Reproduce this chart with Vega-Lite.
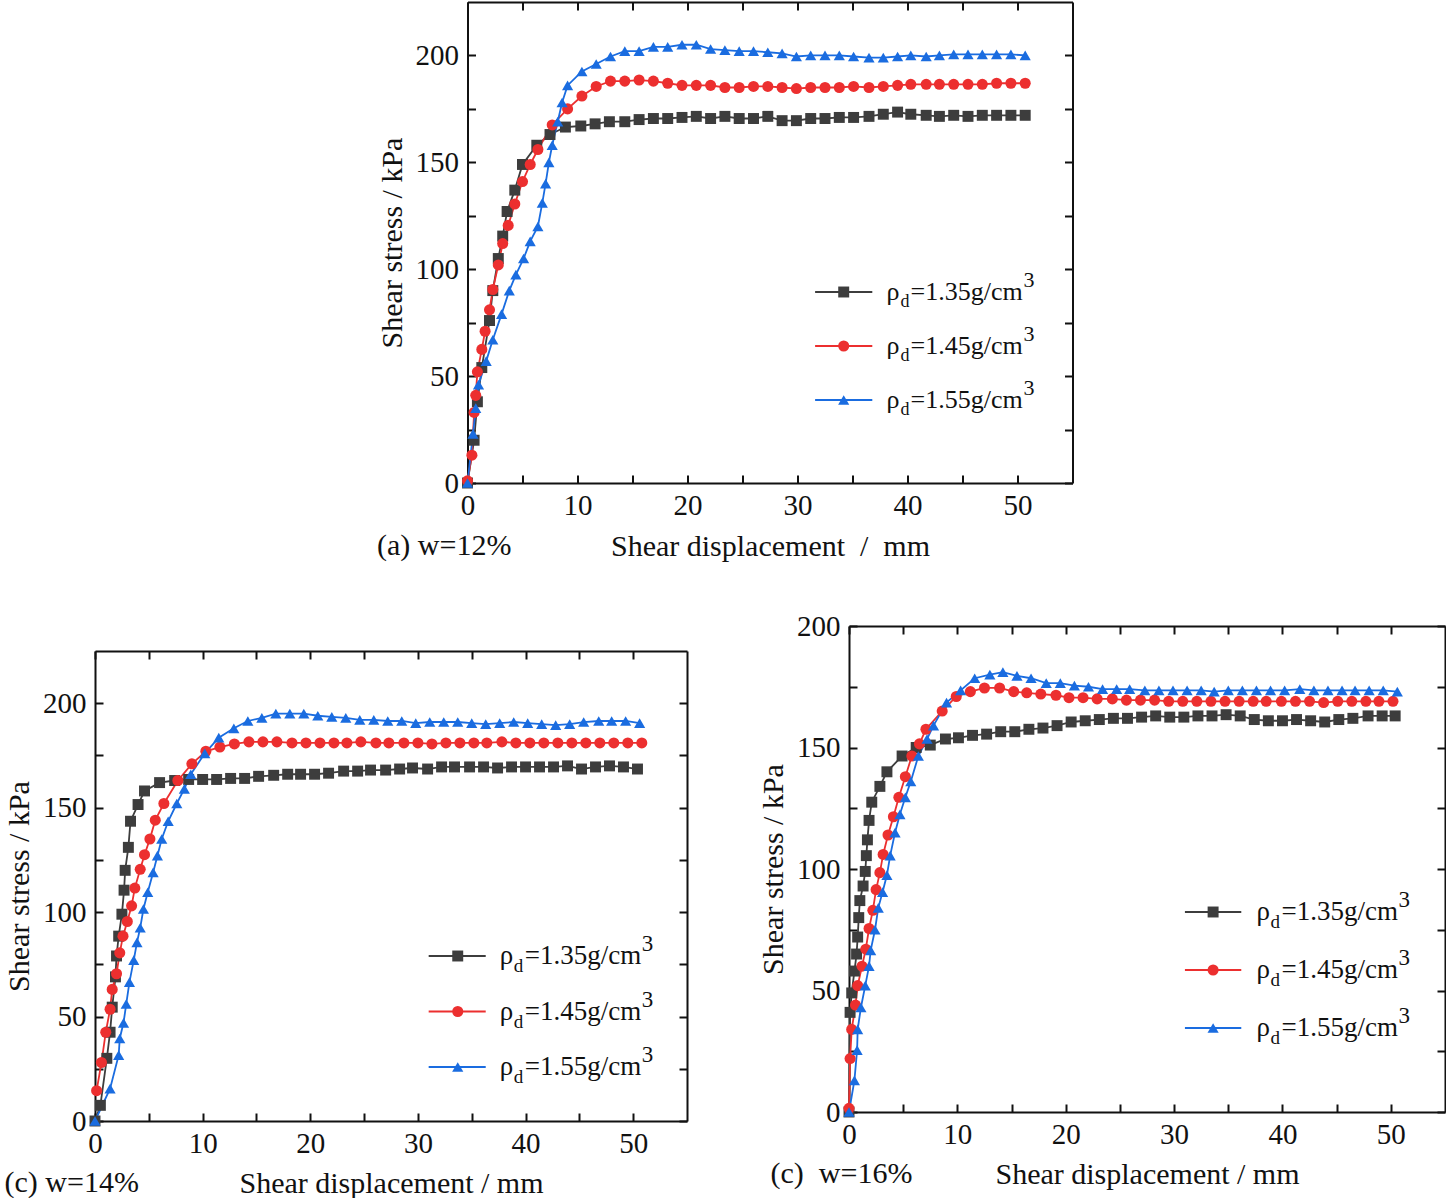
{
  "$schema": "https://vega.github.io/schema/vega-lite/v6.json",
  "padding": {"left": 4, "top": 1, "right": 0, "bottom": 0},
  "background": "white",
  "config": {
    "view": {"stroke": null},
    "font": "Liberation Serif",
    "axis": {
      "labelFont": "Liberation Serif", "labelFontSize": 29, "labelColor": "#111",
      "titleFont": "Liberation Serif", "titleFontSize": 30, "titleFontWeight": "normal", "titleColor": "#111",
      "domainColor": "#111", "domainWidth": 2, "tickColor": "#111", "tickWidth": 2,
      "grid": false, "labelFlush": false, "labelOverlap": false, "tickSize": -8
    },
    "title": {"font": "Liberation Serif", "fontSize": 30, "fontWeight": "normal", "color": "#111"}
  },
  "datasets": {
    "leg": [
      {"s": "1.35", "rho": "ρ", "sub": "d", "val": "=1.35g/cm", "sup": "3"},
      {"s": "1.45", "rho": "ρ", "sub": "d", "val": "=1.45g/cm", "sup": "3"},
      {"s": "1.55", "rho": "ρ", "sub": "d", "val": "=1.55g/cm", "sup": "3"}
    ],
    "a": [
      {"s":"1.35","x":0,"y":0},{"s":"1.35","x":0.6,"y":20},{"s":"1.35","x":0.9,"y":38},{"s":"1.35","x":1.3,"y":54},{"s":"1.35","x":2.0,"y":76},{"s":"1.35","x":2.3,"y":90},{"s":"1.35","x":2.8,"y":105},{"s":"1.35","x":3.2,"y":115.5},{"s":"1.35","x":3.6,"y":127},{"s":"1.35","x":4.3,"y":137},{"s":"1.35","x":5.0,"y":149},{"s":"1.35","x":6.3,"y":158},{"s":"1.35","x":7.5,"y":163},{"s":"1.35","x":8.9,"y":166.5},{"s":"1.35","x":10.3,"y":167},{"s":"1.35","x":11.6,"y":168},{"s":"1.35","x":12.9,"y":169},{"s":"1.35","x":14.3,"y":169},{"s":"1.35","x":15.6,"y":170},{"s":"1.35","x":16.9,"y":170.5},{"s":"1.35","x":18.2,"y":170.5},{"s":"1.35","x":19.5,"y":171},{"s":"1.35","x":20.8,"y":171.5},{"s":"1.35","x":22.1,"y":170.5},{"s":"1.35","x":23.4,"y":171.5},{"s":"1.35","x":24.7,"y":170.5},{"s":"1.35","x":26.0,"y":170.5},{"s":"1.35","x":27.3,"y":171.5},{"s":"1.35","x":28.6,"y":169.5},{"s":"1.35","x":29.9,"y":169.5},{"s":"1.35","x":31.2,"y":170.5},{"s":"1.35","x":32.5,"y":170.5},{"s":"1.35","x":33.8,"y":171},{"s":"1.35","x":35.1,"y":171},{"s":"1.35","x":36.5,"y":171.5},{"s":"1.35","x":37.8,"y":172.5},{"s":"1.35","x":39.1,"y":173.5},{"s":"1.35","x":40.3,"y":172.5},{"s":"1.35","x":41.7,"y":172},{"s":"1.35","x":42.9,"y":171.5},{"s":"1.35","x":44.2,"y":172},{"s":"1.35","x":45.5,"y":171.5},{"s":"1.35","x":46.8,"y":172},{"s":"1.35","x":48.1,"y":172},{"s":"1.35","x":49.4,"y":172},{"s":"1.35","x":50.7,"y":172},
      {"s":"1.45","x":0,"y":1},{"s":"1.45","x":0.4,"y":13},{"s":"1.45","x":0.6,"y":33},{"s":"1.45","x":0.75,"y":41},{"s":"1.45","x":0.9,"y":52},{"s":"1.45","x":1.3,"y":62.5},{"s":"1.45","x":1.6,"y":71},{"s":"1.45","x":2.0,"y":81},{"s":"1.45","x":2.3,"y":90.5},{"s":"1.45","x":2.8,"y":102},{"s":"1.45","x":3.2,"y":112},{"s":"1.45","x":3.7,"y":120.5},{"s":"1.45","x":4.3,"y":130.5},{"s":"1.45","x":5.0,"y":141},{"s":"1.45","x":5.7,"y":149},{"s":"1.45","x":6.4,"y":156},{"s":"1.45","x":7.7,"y":167.5},{"s":"1.45","x":9.1,"y":175},{"s":"1.45","x":10.4,"y":181},{"s":"1.45","x":11.7,"y":185.5},{"s":"1.45","x":13.0,"y":188},{"s":"1.45","x":14.3,"y":188},{"s":"1.45","x":15.6,"y":188.5},{"s":"1.45","x":16.9,"y":188},{"s":"1.45","x":18.2,"y":187},{"s":"1.45","x":19.5,"y":186},{"s":"1.45","x":20.8,"y":186},{"s":"1.45","x":22.1,"y":186},{"s":"1.45","x":23.4,"y":185},{"s":"1.45","x":24.7,"y":185},{"s":"1.45","x":26.0,"y":185.5},{"s":"1.45","x":27.3,"y":185.5},{"s":"1.45","x":28.6,"y":185},{"s":"1.45","x":29.9,"y":184.5},{"s":"1.45","x":31.2,"y":185},{"s":"1.45","x":32.5,"y":185},{"s":"1.45","x":33.8,"y":185},{"s":"1.45","x":35.1,"y":185.5},{"s":"1.45","x":36.5,"y":185},{"s":"1.45","x":37.8,"y":185.5},{"s":"1.45","x":39.1,"y":186},{"s":"1.45","x":40.3,"y":186.5},{"s":"1.45","x":41.7,"y":186.5},{"s":"1.45","x":42.9,"y":186.5},{"s":"1.45","x":44.2,"y":186.5},{"s":"1.45","x":45.5,"y":186.5},{"s":"1.45","x":46.8,"y":186.5},{"s":"1.45","x":48.1,"y":187},{"s":"1.45","x":49.4,"y":187},{"s":"1.45","x":50.7,"y":187},
      {"s":"1.55","x":0,"y":0},{"s":"1.55","x":0.5,"y":23},{"s":"1.55","x":0.75,"y":35},{"s":"1.55","x":1.0,"y":46},{"s":"1.55","x":1.7,"y":57},{"s":"1.55","x":2.3,"y":67},{"s":"1.55","x":3.1,"y":79},{"s":"1.55","x":3.8,"y":90},{"s":"1.55","x":4.4,"y":97.5},{"s":"1.55","x":5.1,"y":105},{"s":"1.55","x":5.7,"y":113},{"s":"1.55","x":6.4,"y":120},{"s":"1.55","x":6.8,"y":131},{"s":"1.55","x":7.1,"y":140},{"s":"1.55","x":7.4,"y":150},{"s":"1.55","x":7.7,"y":158},{"s":"1.55","x":8.2,"y":169},{"s":"1.55","x":8.6,"y":178},{"s":"1.55","x":9.1,"y":186},{"s":"1.55","x":10.4,"y":192.5},{"s":"1.55","x":11.7,"y":196},{"s":"1.55","x":13.0,"y":199.5},{"s":"1.55","x":14.3,"y":202},{"s":"1.55","x":15.6,"y":202},{"s":"1.55","x":16.9,"y":204},{"s":"1.55","x":18.2,"y":204},{"s":"1.55","x":19.5,"y":205},{"s":"1.55","x":20.8,"y":205},{"s":"1.55","x":22.1,"y":203},{"s":"1.55","x":23.4,"y":202.5},{"s":"1.55","x":24.7,"y":202},{"s":"1.55","x":26.0,"y":202},{"s":"1.55","x":27.3,"y":201.5},{"s":"1.55","x":28.6,"y":201},{"s":"1.55","x":29.9,"y":199.5},{"s":"1.55","x":31.2,"y":200},{"s":"1.55","x":32.5,"y":200},{"s":"1.55","x":33.8,"y":200},{"s":"1.55","x":35.1,"y":199.5},{"s":"1.55","x":36.5,"y":199},{"s":"1.55","x":37.8,"y":199},{"s":"1.55","x":39.1,"y":199.5},{"s":"1.55","x":40.3,"y":200},{"s":"1.55","x":41.7,"y":199.5},{"s":"1.55","x":42.9,"y":200},{"s":"1.55","x":44.2,"y":200.5},{"s":"1.55","x":45.5,"y":200.5},{"s":"1.55","x":46.8,"y":200.5},{"s":"1.55","x":48.1,"y":200.5},{"s":"1.55","x":49.4,"y":200.5},{"s":"1.55","x":50.7,"y":200}
    ],
    "b": [
      {"s":"1.35","x":0,"y":0},{"s":"1.35","x":0.5,"y":7.5},{"s":"1.35","x":1.1,"y":30},{"s":"1.35","x":1.4,"y":42.5},{"s":"1.35","x":1.6,"y":54.5},{"s":"1.35","x":1.9,"y":69},{"s":"1.35","x":2.0,"y":79},{"s":"1.35","x":2.2,"y":88.5},{"s":"1.35","x":2.5,"y":99},{"s":"1.35","x":2.7,"y":110.5},{"s":"1.35","x":2.8,"y":120},{"s":"1.35","x":3.1,"y":131},{"s":"1.35","x":3.3,"y":143.5},{"s":"1.35","x":4.0,"y":151.5},{"s":"1.35","x":4.6,"y":158},{"s":"1.35","x":6.0,"y":162},{"s":"1.35","x":7.4,"y":163},{"s":"1.35","x":8.7,"y":163.5},{"s":"1.35","x":10.0,"y":163.5},{"s":"1.35","x":11.3,"y":163.5},{"s":"1.35","x":12.6,"y":164},{"s":"1.35","x":13.9,"y":164},{"s":"1.35","x":15.2,"y":165},{"s":"1.35","x":16.6,"y":165.5},{"s":"1.35","x":17.9,"y":166},{"s":"1.35","x":19.1,"y":166},{"s":"1.35","x":20.4,"y":166},{"s":"1.35","x":21.7,"y":166.5},{"s":"1.35","x":23.1,"y":167.5},{"s":"1.35","x":24.4,"y":167.5},{"s":"1.35","x":25.6,"y":168},{"s":"1.35","x":27.0,"y":168},{"s":"1.35","x":28.3,"y":168.5},{"s":"1.35","x":29.5,"y":169},{"s":"1.35","x":30.9,"y":168.5},{"s":"1.35","x":32.2,"y":169.5},{"s":"1.35","x":33.4,"y":169.5},{"s":"1.35","x":34.8,"y":169.5},{"s":"1.35","x":36.1,"y":169.5},{"s":"1.35","x":37.4,"y":169},{"s":"1.35","x":38.7,"y":169.5},{"s":"1.35","x":40.0,"y":169.5},{"s":"1.35","x":41.3,"y":169.5},{"s":"1.35","x":42.6,"y":169.5},{"s":"1.35","x":43.9,"y":170},{"s":"1.35","x":45.2,"y":168.5},{"s":"1.35","x":46.5,"y":169.5},{"s":"1.35","x":47.8,"y":170},{"s":"1.35","x":49.1,"y":169.5},{"s":"1.35","x":50.4,"y":168.5},
      {"s":"1.45","x":0.15,"y":14.5},{"s":"1.45","x":0.6,"y":28},{"s":"1.45","x":1.0,"y":42.5},{"s":"1.45","x":1.4,"y":53.5},{"s":"1.45","x":1.6,"y":63},{"s":"1.45","x":2.0,"y":70.5},{"s":"1.45","x":2.3,"y":80.5},{"s":"1.45","x":2.6,"y":88.5},{"s":"1.45","x":3.0,"y":95.5},{"s":"1.45","x":3.4,"y":103},{"s":"1.45","x":3.7,"y":111.5},{"s":"1.45","x":4.2,"y":120.5},{"s":"1.45","x":4.6,"y":127.5},{"s":"1.45","x":5.1,"y":135},{"s":"1.45","x":5.6,"y":144},{"s":"1.45","x":6.4,"y":152},{"s":"1.45","x":7.7,"y":163},{"s":"1.45","x":9.0,"y":171},{"s":"1.45","x":10.3,"y":177},{"s":"1.45","x":11.6,"y":179},{"s":"1.45","x":12.95,"y":180.5},{"s":"1.45","x":14.3,"y":181.5},{"s":"1.45","x":15.6,"y":181.5},{"s":"1.45","x":16.9,"y":181.5},{"s":"1.45","x":18.3,"y":181},{"s":"1.45","x":19.6,"y":181},{"s":"1.45","x":20.9,"y":181},{"s":"1.45","x":22.2,"y":181},{"s":"1.45","x":23.4,"y":181},{"s":"1.45","x":24.7,"y":181.5},{"s":"1.45","x":26.1,"y":181},{"s":"1.45","x":27.3,"y":181},{"s":"1.45","x":28.7,"y":181},{"s":"1.45","x":30.0,"y":181},{"s":"1.45","x":31.3,"y":180.5},{"s":"1.45","x":32.6,"y":181},{"s":"1.45","x":33.9,"y":181},{"s":"1.45","x":35.2,"y":181},{"s":"1.45","x":36.4,"y":181},{"s":"1.45","x":37.8,"y":181.5},{"s":"1.45","x":39.1,"y":181},{"s":"1.45","x":40.4,"y":181},{"s":"1.45","x":41.7,"y":181},{"s":"1.45","x":43.0,"y":181},{"s":"1.45","x":44.3,"y":181},{"s":"1.45","x":45.6,"y":181},{"s":"1.45","x":46.9,"y":181},{"s":"1.45","x":48.2,"y":181},{"s":"1.45","x":49.5,"y":181},{"s":"1.45","x":50.8,"y":181},
      {"s":"1.55","x":0,"y":0},{"s":"1.55","x":1.4,"y":15.5},{"s":"1.55","x":2.2,"y":31.5},{"s":"1.55","x":2.3,"y":39.5},{"s":"1.55","x":2.65,"y":47},{"s":"1.55","x":2.9,"y":56},{"s":"1.55","x":3.2,"y":66.5},{"s":"1.55","x":3.6,"y":77},{"s":"1.55","x":3.9,"y":85.5},{"s":"1.55","x":4.2,"y":92.5},{"s":"1.55","x":4.5,"y":101.5},{"s":"1.55","x":4.9,"y":109.5},{"s":"1.55","x":5.4,"y":119},{"s":"1.55","x":5.8,"y":127},{"s":"1.55","x":6.2,"y":135},{"s":"1.55","x":6.8,"y":143.5},{"s":"1.55","x":7.6,"y":152},{"s":"1.55","x":8.3,"y":159},{"s":"1.55","x":8.9,"y":166},{"s":"1.55","x":10.2,"y":176},{"s":"1.55","x":11.5,"y":183.5},{"s":"1.55","x":12.9,"y":188},{"s":"1.55","x":14.2,"y":191.5},{"s":"1.55","x":15.5,"y":193},{"s":"1.55","x":16.8,"y":195},{"s":"1.55","x":18.1,"y":195},{"s":"1.55","x":19.4,"y":195},{"s":"1.55","x":20.7,"y":194},{"s":"1.55","x":22.0,"y":193.5},{"s":"1.55","x":23.3,"y":193},{"s":"1.55","x":24.6,"y":192},{"s":"1.55","x":25.9,"y":192},{"s":"1.55","x":27.2,"y":191.5},{"s":"1.55","x":28.5,"y":191.5},{"s":"1.55","x":29.8,"y":190.5},{"s":"1.55","x":31.1,"y":191},{"s":"1.55","x":32.4,"y":191},{"s":"1.55","x":33.7,"y":191},{"s":"1.55","x":35.0,"y":190.5},{"s":"1.55","x":36.3,"y":190},{"s":"1.55","x":37.6,"y":190.5},{"s":"1.55","x":38.9,"y":191},{"s":"1.55","x":40.2,"y":190.5},{"s":"1.55","x":41.5,"y":190},{"s":"1.55","x":42.8,"y":189.5},{"s":"1.55","x":44.1,"y":190},{"s":"1.55","x":45.4,"y":191},{"s":"1.55","x":46.8,"y":191.5},{"s":"1.55","x":48.0,"y":191.5},{"s":"1.55","x":49.3,"y":191.5},{"s":"1.55","x":50.6,"y":190.5}
    ],
    "c": [
      {"s":"1.35","x":0,"y":0},{"s":"1.35","x":0.1,"y":41},{"s":"1.35","x":0.25,"y":49},{"s":"1.35","x":0.5,"y":58},{"s":"1.35","x":0.7,"y":65},{"s":"1.35","x":0.8,"y":72},{"s":"1.35","x":0.9,"y":80},{"s":"1.35","x":1.0,"y":87},{"s":"1.35","x":1.3,"y":93},{"s":"1.35","x":1.5,"y":99},{"s":"1.35","x":1.6,"y":105.5},{"s":"1.35","x":1.7,"y":112},{"s":"1.35","x":1.85,"y":120},{"s":"1.35","x":2.1,"y":127.5},{"s":"1.35","x":2.85,"y":134},{"s":"1.35","x":3.5,"y":140},{"s":"1.35","x":4.9,"y":146.5},{"s":"1.35","x":6.2,"y":150},{"s":"1.35","x":7.5,"y":151},{"s":"1.35","x":8.9,"y":153.5},{"s":"1.35","x":10.1,"y":154},{"s":"1.35","x":11.4,"y":155},{"s":"1.35","x":12.7,"y":155.5},{"s":"1.35","x":14.0,"y":156.5},{"s":"1.35","x":15.3,"y":156.5},{"s":"1.35","x":16.6,"y":157.5},{"s":"1.35","x":17.9,"y":158},{"s":"1.35","x":19.2,"y":159},{"s":"1.35","x":20.5,"y":160.5},{"s":"1.35","x":21.8,"y":161},{"s":"1.35","x":23.1,"y":161.5},{"s":"1.35","x":24.4,"y":162},{"s":"1.35","x":25.7,"y":162},{"s":"1.35","x":27.0,"y":162.5},{"s":"1.35","x":28.3,"y":163},{"s":"1.35","x":29.6,"y":162.5},{"s":"1.35","x":30.9,"y":162.5},{"s":"1.35","x":32.2,"y":163},{"s":"1.35","x":33.5,"y":163},{"s":"1.35","x":34.8,"y":163.5},{"s":"1.35","x":36.1,"y":163},{"s":"1.35","x":37.4,"y":161.5},{"s":"1.35","x":38.7,"y":161},{"s":"1.35","x":40.0,"y":161},{"s":"1.35","x":41.3,"y":161.5},{"s":"1.35","x":42.6,"y":161},{"s":"1.35","x":43.9,"y":160.5},{"s":"1.35","x":45.2,"y":161.5},{"s":"1.35","x":46.5,"y":162},{"s":"1.35","x":47.9,"y":163},{"s":"1.35","x":49.2,"y":163},{"s":"1.35","x":50.4,"y":163},
      {"s":"1.45","x":0,"y":1.5},{"s":"1.45","x":0.1,"y":22},{"s":"1.45","x":0.25,"y":34},{"s":"1.45","x":0.6,"y":44},{"s":"1.45","x":0.8,"y":52},{"s":"1.45","x":1.2,"y":60},{"s":"1.45","x":1.55,"y":67},{"s":"1.45","x":1.85,"y":75.5},{"s":"1.45","x":2.2,"y":83},{"s":"1.45","x":2.5,"y":91.5},{"s":"1.45","x":2.85,"y":98.5},{"s":"1.45","x":3.15,"y":106},{"s":"1.45","x":3.6,"y":114},{"s":"1.45","x":4.1,"y":121.5},{"s":"1.45","x":4.6,"y":129.5},{"s":"1.45","x":5.2,"y":138},{"s":"1.45","x":5.8,"y":146.5},{"s":"1.45","x":6.5,"y":151.5},{"s":"1.45","x":7.1,"y":157.5},{"s":"1.45","x":8.6,"y":165},{"s":"1.45","x":9.9,"y":171},{"s":"1.45","x":11.2,"y":173},{"s":"1.45","x":12.5,"y":174.5},{"s":"1.45","x":13.9,"y":174.5},{"s":"1.45","x":15.2,"y":173},{"s":"1.45","x":16.4,"y":172.5},{"s":"1.45","x":17.7,"y":172},{"s":"1.45","x":19.1,"y":171.5},{"s":"1.45","x":20.3,"y":170.5},{"s":"1.45","x":21.6,"y":170.5},{"s":"1.45","x":22.9,"y":170},{"s":"1.45","x":24.3,"y":170},{"s":"1.45","x":25.6,"y":169.5},{"s":"1.45","x":26.9,"y":169.5},{"s":"1.45","x":28.2,"y":169.5},{"s":"1.45","x":29.5,"y":169},{"s":"1.45","x":30.8,"y":169},{"s":"1.45","x":32.1,"y":169},{"s":"1.45","x":33.4,"y":169},{"s":"1.45","x":34.7,"y":169},{"s":"1.45","x":36.0,"y":169},{"s":"1.45","x":37.3,"y":169},{"s":"1.45","x":38.5,"y":169},{"s":"1.45","x":39.9,"y":169},{"s":"1.45","x":41.2,"y":169},{"s":"1.45","x":42.5,"y":169},{"s":"1.45","x":43.8,"y":168.5},{"s":"1.45","x":45.1,"y":169},{"s":"1.45","x":46.4,"y":169},{"s":"1.45","x":47.7,"y":169},{"s":"1.45","x":48.9,"y":169},{"s":"1.45","x":50.2,"y":169},
      {"s":"1.55","x":0,"y":0},{"s":"1.55","x":0.5,"y":13},{"s":"1.55","x":0.75,"y":25.5},{"s":"1.55","x":0.8,"y":34},{"s":"1.55","x":1.1,"y":43},{"s":"1.55","x":1.5,"y":52},{"s":"1.55","x":1.85,"y":60},{"s":"1.55","x":2.0,"y":66.5},{"s":"1.55","x":2.4,"y":75},{"s":"1.55","x":2.7,"y":84},{"s":"1.55","x":3.1,"y":90.5},{"s":"1.55","x":3.5,"y":97.5},{"s":"1.55","x":3.8,"y":105.5},{"s":"1.55","x":4.25,"y":115},{"s":"1.55","x":4.7,"y":122.5},{"s":"1.55","x":5.2,"y":129.5},{"s":"1.55","x":5.7,"y":136},{"s":"1.55","x":6.4,"y":146.5},{"s":"1.55","x":7.2,"y":153.5},{"s":"1.55","x":7.8,"y":159},{"s":"1.55","x":9.0,"y":168.5},{"s":"1.55","x":10.3,"y":173.5},{"s":"1.55","x":11.6,"y":178.5},{"s":"1.55","x":13.0,"y":180},{"s":"1.55","x":14.2,"y":181},{"s":"1.55","x":15.5,"y":179.5},{"s":"1.55","x":16.8,"y":178.5},{"s":"1.55","x":18.2,"y":176.5},{"s":"1.55","x":19.5,"y":176.5},{"s":"1.55","x":20.8,"y":175.5},{"s":"1.55","x":22.1,"y":175},{"s":"1.55","x":23.4,"y":174},{"s":"1.55","x":24.7,"y":174},{"s":"1.55","x":25.9,"y":174},{"s":"1.55","x":27.3,"y":173.5},{"s":"1.55","x":28.6,"y":173.5},{"s":"1.55","x":29.9,"y":173.5},{"s":"1.55","x":31.2,"y":173.5},{"s":"1.55","x":32.5,"y":173.5},{"s":"1.55","x":33.7,"y":173},{"s":"1.55","x":35.0,"y":173.5},{"s":"1.55","x":36.3,"y":173.5},{"s":"1.55","x":37.6,"y":173.5},{"s":"1.55","x":38.9,"y":173.5},{"s":"1.55","x":40.2,"y":173.5},{"s":"1.55","x":41.6,"y":174},{"s":"1.55","x":42.9,"y":173.5},{"s":"1.55","x":44.2,"y":173.5},{"s":"1.55","x":45.5,"y":173.5},{"s":"1.55","x":46.7,"y":173.5},{"s":"1.55","x":48.0,"y":173.5},{"s":"1.55","x":49.3,"y":173.5},{"s":"1.55","x":50.6,"y":173}
    ]
  },
  "spacing": 51,
  "center": true,
  "vconcat": [
    {
      "width": 605, "height": 481,
      "title": {"text": "(a) w=12%", "orient": "bottom", "anchor": "start", "offset": -30},
      "layer": [
        {"data": {"name": "a"}, "mark": {"type": "line", "strokeWidth": 1.8},
         "encoding": {
           "x": {"field": "x", "type": "quantitative", "scale": {"domain": [0, 55]},
                 "axis": {"orient": "bottom", "title": "Shear displacement\u00a0 /\u00a0 mm", "values": [0,5,10,15,20,25,30,35,40,45,50], "labelExpr": "datum.value % 10 === 0 ? datum.label : ''", "labelPadding": 16, "titlePadding": 11, "encode": {"ticks": {"update": {"y2": {"signal": "datum.value % 10 === 0 ? -8 : -5"}}}}}},
           "y": {"field": "y", "type": "quantitative", "scale": {"domain": [0, 225]},
                 "axis": {"orient": "left", "title": "Shear stress / kPa", "values": [0,25,50,75,100,125,150,175,200], "labelExpr": "datum.value % 50 === 0 ? datum.label : ''", "labelPadding": 17, "titlePadding": 8, "encode": {"ticks": {"update": {"x2": {"signal": "datum.value % 50 === 0 ? 8 : 5"}}}}}},
           "color": {"field": "s", "type": "nominal", "scale": {"domain": ["1.35","1.45","1.55"], "range": ["#3d3d3d","#ec2f2f","#1a6ce0"]}, "legend": null}
         }},
        {"data": {"name": "a"}, "mark": {"type": "point", "filled": true, "opacity": 1},
         "encoding": {
           "x": {"field": "x", "type": "quantitative", "axis": {"orient": "top", "title": null, "labels": false, "values": [0,5,10,15,20,25,30,35,40,45,50], "encode": {"ticks": {"update": {"y2": {"signal": "datum.value % 10 === 0 ? 8 : 5"}}}}}},
           "y": {"field": "y", "type": "quantitative", "scale": {"domain": [0, 225]},
                 "axis": {"orient": "right", "title": null, "labels": false, "values": [0,25,50,75,100,125,150,175,200], "encode": {"ticks": {"update": {"x2": {"signal": "datum.value % 50 === 0 ? -8 : -5"}}}}}},
           "color": {"field": "s", "type": "nominal", "legend": null},
           "shape": {"field": "s", "type": "nominal", "scale": {"domain": ["1.35","1.45","1.55"], "range": ["square","circle","triangle-up"]}, "legend": null},
           "size": {"field": "s", "type": "ordinal", "scale": {"domain": ["1.35","1.45","1.55"], "range": [120, 125, 170]}, "legend": null}
         }},
        {"data": {"name": "leg"}, "mark": {"type": "rule", "strokeWidth": 2},
         "encoding": {
           "x": {"datum": 31.6, "type": "quantitative", "axis": null}, "x2": {"datum": 36.8},
           "y": {"field": "s", "type": "ordinal", "scale": {"type": "point", "domain": ["1.35","1.45","1.55"], "range": [290, 398], "padding": 0}, "axis": null},
           "color": {"field": "s", "type": "nominal", "legend": null}
         }},
        {"data": {"name": "leg"}, "mark": {"type": "point", "filled": true, "opacity": 1},
         "encoding": {
           "x": {"datum": 34.2, "type": "quantitative", "axis": null},
           "y": {"field": "s", "type": "ordinal", "scale": {"type": "point", "domain": ["1.35","1.45","1.55"], "range": [290, 398], "padding": 0}, "axis": null},
           "color": {"field": "s", "type": "nominal", "legend": null},
           "shape": {"field": "s", "type": "nominal", "legend": null},
           "size": {"field": "s", "type": "ordinal", "legend": null}
         }},
        {"data": {"name": "leg"}, "mark": {"type": "text", "align": "left", "baseline": "middle", "fontSize": 26, "font": "Liberation Serif", "color": "#111"},
         "encoding": {
           "x": {"datum": 38.1, "type": "quantitative", "axis": null},
           "y": {"field": "s", "type": "ordinal", "scale": {"type": "point", "domain": ["1.35","1.45","1.55"], "range": [290, 398], "padding": 0}, "axis": null},
           "text": {"field": "rho"}
         }},
        {"data": {"name": "leg"}, "mark": {"type": "text", "align": "left", "baseline": "middle", "fontSize": 18, "font": "Liberation Serif", "color": "#111", "dx": 14, "dy": 10},
         "encoding": {
           "x": {"datum": 38.1, "type": "quantitative", "axis": null},
           "y": {"field": "s", "type": "ordinal", "scale": {"type": "point", "domain": ["1.35","1.45","1.55"], "range": [290, 398], "padding": 0}, "axis": null},
           "text": {"field": "sub"}
         }},
        {"data": {"name": "leg"}, "mark": {"type": "text", "align": "left", "baseline": "middle", "fontSize": 26, "font": "Liberation Serif", "color": "#111", "dx": 24},
         "encoding": {
           "x": {"datum": 38.1, "type": "quantitative", "axis": null},
           "y": {"field": "s", "type": "ordinal", "scale": {"type": "point", "domain": ["1.35","1.45","1.55"], "range": [290, 398], "padding": 0}, "axis": null},
           "text": {"field": "val"}
         }},
        {"data": {"name": "leg"}, "mark": {"type": "text", "align": "left", "baseline": "middle", "fontSize": 22, "font": "Liberation Serif", "color": "#111", "dx": 137, "dy": -12},
         "encoding": {
           "x": {"datum": 38.1, "type": "quantitative", "axis": null},
           "y": {"field": "s", "type": "ordinal", "scale": {"type": "point", "domain": ["1.35","1.45","1.55"], "range": [290, 398], "padding": 0}, "axis": null},
           "text": {"field": "sup"}
         }}
      ],
      "resolve": {"scale": {"y": "independent"}, "axis": {"x": "independent", "y": "independent"}}
    },
    {
      "spacing": 70,
      "hconcat": [
        {
          "spacing": 20,
          "vconcat": [
            {"width": 10, "height": 4, "data": {"values": []}, "mark": "point", "encoding": {}},
            {
              "width": 592, "height": 470,
              "title": {"text": "(c) w=14%", "orient": "bottom", "anchor": "start", "offset": -30},
              "layer": [
                {"data": {"name": "b"}, "mark": {"type": "line", "strokeWidth": 1.8},
                 "encoding": {
                   "x": {"field": "x", "type": "quantitative", "scale": {"domain": [0, 55]},
                         "axis": {"orient": "bottom", "title": "Shear displacement / mm", "values": [0,5,10,15,20,25,30,35,40,45,50], "labelExpr": "datum.value % 10 === 0 ? datum.label : ''", "labelPadding": 16, "titlePadding": 10, "encode": {"ticks": {"update": {"y2": {"signal": "datum.value % 10 === 0 ? -8 : -5"}}}}}},
                   "y": {"field": "y", "type": "quantitative", "scale": {"domain": [0, 225]},
                         "axis": {"orient": "left", "title": "Shear stress / kPa", "values": [0,25,50,75,100,125,150,175,200], "labelExpr": "datum.value % 50 === 0 ? datum.label : ''", "labelPadding": 17, "titlePadding": 8, "encode": {"ticks": {"update": {"x2": {"signal": "datum.value % 50 === 0 ? 8 : 5"}}}}}},
                   "color": {"field": "s", "type": "nominal", "scale": {"domain": ["1.35","1.45","1.55"], "range": ["#3d3d3d","#ec2f2f","#1a6ce0"]}, "legend": null}
                 }},
                {"data": {"name": "b"}, "mark": {"type": "point", "filled": true, "opacity": 1},
                 "encoding": {
                   "x": {"field": "x", "type": "quantitative", "axis": {"orient": "top", "title": null, "labels": false, "values": [0,5,10,15,20,25,30,35,40,45,50], "encode": {"ticks": {"update": {"y2": {"signal": "datum.value % 10 === 0 ? 8 : 5"}}}}}},
                   "y": {"field": "y", "type": "quantitative", "scale": {"domain": [0, 225]},
                         "axis": {"orient": "right", "title": null, "labels": false, "values": [0,25,50,75,100,125,150,175,200], "encode": {"ticks": {"update": {"x2": {"signal": "datum.value % 50 === 0 ? -8 : -5"}}}}}},
                   "color": {"field": "s", "type": "nominal", "legend": null},
                   "shape": {"field": "s", "type": "nominal", "scale": {"domain": ["1.35","1.45","1.55"], "range": ["square","circle","triangle-up"]}, "legend": null},
                   "size": {"field": "s", "type": "ordinal", "scale": {"domain": ["1.35","1.45","1.55"], "range": [120, 125, 170]}, "legend": null}
                 }},
                {"data": {"name": "leg"}, "mark": {"type": "rule", "strokeWidth": 2},
                 "encoding": {
                   "x": {"datum": 31.0, "type": "quantitative", "axis": null}, "x2": {"datum": 36.3},
                   "y": {"field": "s", "type": "ordinal", "scale": {"type": "point", "domain": ["1.35","1.45","1.55"], "range": [305, 416], "padding": 0}, "axis": null},
                   "color": {"field": "s", "type": "nominal", "legend": null}
                 }},
                {"data": {"name": "leg"}, "mark": {"type": "point", "filled": true, "opacity": 1},
                 "encoding": {
                   "x": {"datum": 33.7, "type": "quantitative", "axis": null},
                   "y": {"field": "s", "type": "ordinal", "scale": {"type": "point", "domain": ["1.35","1.45","1.55"], "range": [305, 416], "padding": 0}, "axis": null},
                   "color": {"field": "s", "type": "nominal", "legend": null},
                   "shape": {"field": "s", "type": "nominal", "legend": null},
                   "size": {"field": "s", "type": "ordinal", "legend": null}
                 }},
                {"data": {"name": "leg"}, "mark": {"type": "text", "align": "left", "baseline": "middle", "fontSize": 27, "font": "Liberation Serif", "color": "#111"},
                 "encoding": {
                   "x": {"datum": 37.6, "type": "quantitative", "axis": null},
                   "y": {"field": "s", "type": "ordinal", "scale": {"type": "point", "domain": ["1.35","1.45","1.55"], "range": [305, 416], "padding": 0}, "axis": null},
                   "text": {"field": "rho"}
                 }},
                {"data": {"name": "leg"}, "mark": {"type": "text", "align": "left", "baseline": "middle", "fontSize": 19, "font": "Liberation Serif", "color": "#111", "dx": 14, "dy": 10},
                 "encoding": {
                   "x": {"datum": 37.6, "type": "quantitative", "axis": null},
                   "y": {"field": "s", "type": "ordinal", "scale": {"type": "point", "domain": ["1.35","1.45","1.55"], "range": [305, 416], "padding": 0}, "axis": null},
                   "text": {"field": "sub"}
                 }},
                {"data": {"name": "leg"}, "mark": {"type": "text", "align": "left", "baseline": "middle", "fontSize": 27, "font": "Liberation Serif", "color": "#111", "dx": 25},
                 "encoding": {
                   "x": {"datum": 37.6, "type": "quantitative", "axis": null},
                   "y": {"field": "s", "type": "ordinal", "scale": {"type": "point", "domain": ["1.35","1.45","1.55"], "range": [305, 416], "padding": 0}, "axis": null},
                   "text": {"field": "val"}
                 }},
                {"data": {"name": "leg"}, "mark": {"type": "text", "align": "left", "baseline": "middle", "fontSize": 23, "font": "Liberation Serif", "color": "#111", "dx": 142, "dy": -12},
                 "encoding": {
                   "x": {"datum": 37.6, "type": "quantitative", "axis": null},
                   "y": {"field": "s", "type": "ordinal", "scale": {"type": "point", "domain": ["1.35","1.45","1.55"], "range": [305, 416], "padding": 0}, "axis": null},
                   "text": {"field": "sup"}
                 }}
              ],
              "resolve": {"scale": {"y": "independent"}, "axis": {"x": "independent", "y": "independent"}}
            }
          ]
        },
        {
          "width": 596, "height": 486,
          "title": {"text": "(c)\u00a0 w=16%", "orient": "bottom", "anchor": "start", "offset": -30, "dx": 12},
          "layer": [
            {"data": {"name": "c"}, "mark": {"type": "line", "strokeWidth": 1.8},
             "encoding": {
               "x": {"field": "x", "type": "quantitative", "scale": {"domain": [0, 55]},
                     "axis": {"orient": "bottom", "title": "Shear displacement / mm", "values": [0,5,10,15,20,25,30,35,40,45,50], "labelExpr": "datum.value % 10 === 0 ? datum.label : ''", "labelPadding": 16, "titlePadding": 10, "encode": {"ticks": {"update": {"y2": {"signal": "datum.value % 10 === 0 ? -8 : -5"}}}}}},
               "y": {"field": "y", "type": "quantitative", "scale": {"domain": [0, 200]},
                     "axis": {"orient": "left", "title": "Shear stress / kPa", "values": [0,25,50,75,100,125,150,175,200], "labelExpr": "datum.value % 50 === 0 ? datum.label : ''", "labelPadding": 17, "titlePadding": 8, "encode": {"ticks": {"update": {"x2": {"signal": "datum.value % 50 === 0 ? 8 : 5"}}}}}},
               "color": {"field": "s", "type": "nominal", "scale": {"domain": ["1.35","1.45","1.55"], "range": ["#3d3d3d","#ec2f2f","#1a6ce0"]}, "legend": null}
             }},
            {"data": {"name": "c"}, "mark": {"type": "point", "filled": true, "opacity": 1},
             "encoding": {
               "x": {"field": "x", "type": "quantitative", "axis": {"orient": "top", "title": null, "labels": false, "values": [0,5,10,15,20,25,30,35,40,45,50], "encode": {"ticks": {"update": {"y2": {"signal": "datum.value % 10 === 0 ? 8 : 5"}}}}}},
               "y": {"field": "y", "type": "quantitative", "scale": {"domain": [0, 200]},
                     "axis": {"orient": "right", "title": null, "labels": false, "values": [0,25,50,75,100,125,150,175,200], "encode": {"ticks": {"update": {"x2": {"signal": "datum.value % 50 === 0 ? -8 : -5"}}}}}},
               "color": {"field": "s", "type": "nominal", "legend": null},
               "shape": {"field": "s", "type": "nominal", "scale": {"domain": ["1.35","1.45","1.55"], "range": ["square","circle","triangle-up"]}, "legend": null},
               "size": {"field": "s", "type": "ordinal", "scale": {"domain": ["1.35","1.45","1.55"], "range": [120, 125, 170]}, "legend": null}
             }},
            {"data": {"name": "leg"}, "mark": {"type": "rule", "strokeWidth": 2},
             "encoding": {
               "x": {"datum": 31.0, "type": "quantitative", "axis": null}, "x2": {"datum": 36.2},
               "y": {"field": "s", "type": "ordinal", "scale": {"type": "point", "domain": ["1.35","1.45","1.55"], "range": [286, 402], "padding": 0}, "axis": null},
               "color": {"field": "s", "type": "nominal", "legend": null}
             }},
            {"data": {"name": "leg"}, "mark": {"type": "point", "filled": true, "opacity": 1},
             "encoding": {
               "x": {"datum": 33.6, "type": "quantitative", "axis": null},
               "y": {"field": "s", "type": "ordinal", "scale": {"type": "point", "domain": ["1.35","1.45","1.55"], "range": [286, 402], "padding": 0}, "axis": null},
               "color": {"field": "s", "type": "nominal", "legend": null},
               "shape": {"field": "s", "type": "nominal", "legend": null},
               "size": {"field": "s", "type": "ordinal", "legend": null}
             }},
            {"data": {"name": "leg"}, "mark": {"type": "text", "align": "left", "baseline": "middle", "fontSize": 27, "font": "Liberation Serif", "color": "#111"},
             "encoding": {
               "x": {"datum": 37.6, "type": "quantitative", "axis": null},
               "y": {"field": "s", "type": "ordinal", "scale": {"type": "point", "domain": ["1.35","1.45","1.55"], "range": [286, 402], "padding": 0}, "axis": null},
               "text": {"field": "rho"}
             }},
            {"data": {"name": "leg"}, "mark": {"type": "text", "align": "left", "baseline": "middle", "fontSize": 19, "font": "Liberation Serif", "color": "#111", "dx": 14, "dy": 10},
             "encoding": {
               "x": {"datum": 37.6, "type": "quantitative", "axis": null},
               "y": {"field": "s", "type": "ordinal", "scale": {"type": "point", "domain": ["1.35","1.45","1.55"], "range": [286, 402], "padding": 0}, "axis": null},
               "text": {"field": "sub"}
             }},
            {"data": {"name": "leg"}, "mark": {"type": "text", "align": "left", "baseline": "middle", "fontSize": 27, "font": "Liberation Serif", "color": "#111", "dx": 25},
             "encoding": {
               "x": {"datum": 37.6, "type": "quantitative", "axis": null},
               "y": {"field": "s", "type": "ordinal", "scale": {"type": "point", "domain": ["1.35","1.45","1.55"], "range": [286, 402], "padding": 0}, "axis": null},
               "text": {"field": "val"}
             }},
            {"data": {"name": "leg"}, "mark": {"type": "text", "align": "left", "baseline": "middle", "fontSize": 23, "font": "Liberation Serif", "color": "#111", "dx": 142, "dy": -12},
             "encoding": {
               "x": {"datum": 37.6, "type": "quantitative", "axis": null},
               "y": {"field": "s", "type": "ordinal", "scale": {"type": "point", "domain": ["1.35","1.45","1.55"], "range": [286, 402], "padding": 0}, "axis": null},
               "text": {"field": "sup"}
             }}
          ],
          "resolve": {"scale": {"y": "independent"}, "axis": {"x": "independent", "y": "independent"}}
        }
      ]
    }
  ]
}
